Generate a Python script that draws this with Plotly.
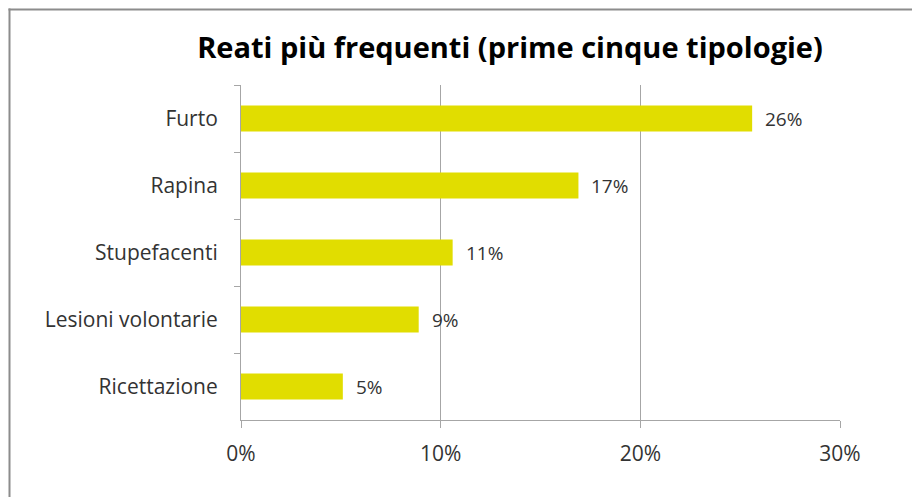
import plotly.graph_objects as go

categories = ["Furto", "Rapina", "Stupefacenti", "Lesioni volontarie", "Ricettazione"]
values = [25.6, 16.9, 10.6, 8.9, 5.1]
value_labels = ["26%", "17%", "11%", "9%", "5%"]
x_ticks = [0, 10, 20, 30]
x_tick_labels = ["0%", "10%", "20%", "30%"]

title_text = "Reati più frequenti (prime cinque tipologie)"
bar_color = "#E1DD00"
font_family = "'Open Sans', sans-serif"

OFF = 8
L, R_, T, B = 241 - OFF, 840 - OFF, 85 - OFF, 420 - OFF
W, H = 920, 497

fig = go.Figure()
fig.add_trace(go.Bar(
    x=values, y=categories, orientation="h",
    marker=dict(color=bar_color, line=dict(width=0)),
    width=0.39, hoverinfo="skip",
))

for c, v, t in zip(categories, values, value_labels):
    fig.add_annotation(x=v, y=c, text=t, showarrow=False, xanchor="left",
                       xshift=11, font=dict(size=19, color="#333333", family=font_family))

pw, ph = R_ - L, B - T
border_col = "#8C8C8C"
# left edge (filled strip)
fig.add_shape(type="rect", xref="paper", yref="paper",
              x0=(0.5 - L) / pw, x1=(2.5 - L) / pw,
              y0=(B - (H + 20)) / ph, y1=(B - 0.5) / ph,
              fillcolor=border_col, line=dict(width=0), layer="above")
# top edge (filled strip)
fig.add_shape(type="rect", xref="paper", yref="paper",
              x0=(0.5 - L) / pw, x1=(W + 20 - L) / pw,
              y0=(B - 2.5) / ph, y1=(B - 0.5) / ph,
              fillcolor=border_col, line=dict(width=0), layer="above")

fig.update_layout(
    width=W, height=H,
    margin=dict(l=L, r=W - R_, t=T, b=H - B),
    paper_bgcolor="white", plot_bgcolor="white",
    showlegend=False,
    title=dict(text="<b>" + title_text + "</b>", x=(510 - OFF) / W, xanchor="center",
               y=1 - (48 - OFF) / H, yanchor="middle",
               font=dict(size=29, color="#000000", family=font_family)),
    xaxis=dict(range=[0, 30], tickvals=x_ticks, ticktext=x_tick_labels,
               showgrid=True, gridcolor="#A6A6A6", gridwidth=1,
               showline=True, linecolor="#A6A6A6", linewidth=1,
               ticks="outside", ticklen=7, tickcolor="#A6A6A6",
               ticklabelstandoff=8,
               zeroline=False, fixedrange=True,
               tickfont=dict(size=21, color="#333333", family=font_family)),
    yaxis=dict(autorange="reversed", showgrid=False,
               showline=True, linecolor="#A6A6A6", linewidth=1,
               ticks="outside", ticklen=6, tickcolor="#A6A6A6",
               tickson="boundaries", ticklabelstandoff=18,
               fixedrange=True,
               tickfont=dict(size=21, color="#333333", family=font_family)),
)

fig.write_html("out.html", config={"displayModeBar": False})
